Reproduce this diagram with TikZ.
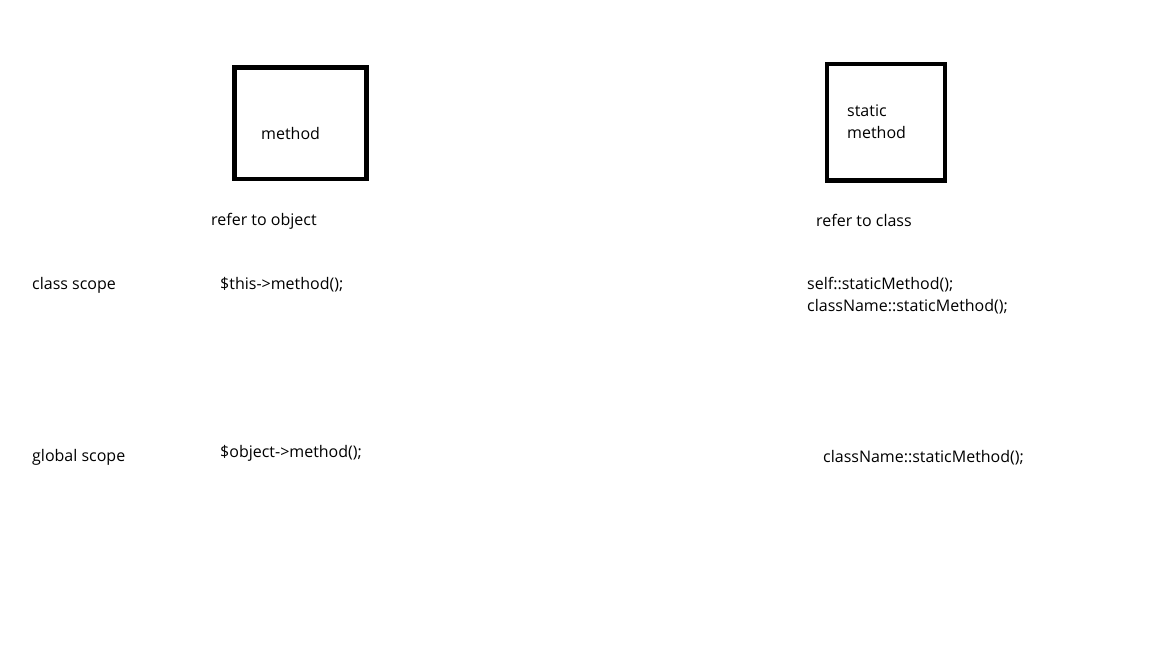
\documentclass[tikz,border=0pt]{standalone}
\usepackage{fontspec}
\setmainfont{Open Sans}
\begin{document}
\begin{tikzpicture}[x=1pt,y=-1pt,
  lbl/.style={anchor=base west,inner sep=0pt,font=\fontsize{16}{22}\selectfont},
  box/.style={draw=black,line width=4.4pt}]
\useasboundingbox[fill=white] (0,0) rectangle (1152,648);
\draw[box] (234.3,67.3) rectangle (366.5,178.8);
\draw[box] (827,64) rectangle (945,180.5);
\node[lbl] (m1) at (261,139) {method};
\node[lbl] (s1) at (847,116) {static};
\node[lbl] (s2) at (847,138) {method};
\node[lbl] (ro) at (211,225) {refer to object};
\node[lbl] (rc) at (816,226) {refer to class};
\node[lbl] (cs) at (32,289) {class scope};
\node[lbl] (tm) at (220,289) {\$this->method();};
\node[lbl] (sm1) at (807,289) {self::staticMethod();};
\node[lbl] (sm2) at (807,311) {className::staticMethod();};
\node[lbl] (gs) at (32,461) {global scope};
\node[lbl] (om) at (220,457) {\$object->method();};
\node[lbl] (sm3) at (823,462) {className::staticMethod();};
\end{tikzpicture}
\end{document}
